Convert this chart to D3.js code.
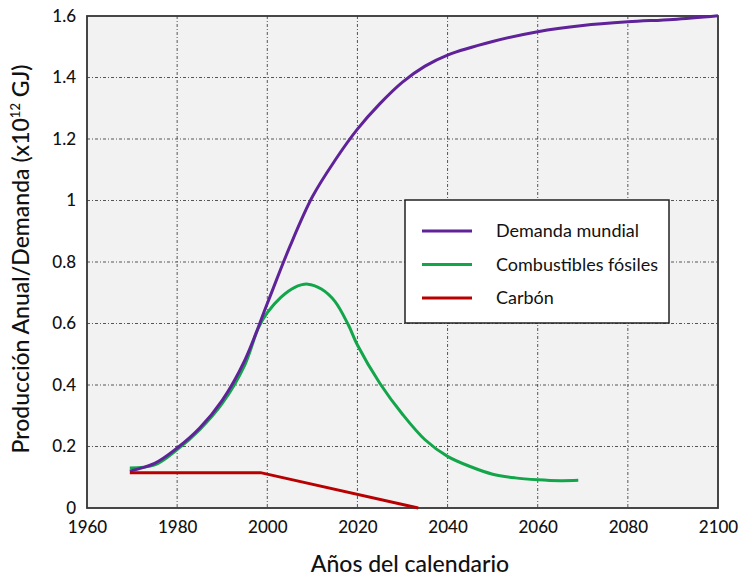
<!DOCTYPE html>
<html><head><meta charset="utf-8">
<script src="https://cdn.jsdelivr.net/npm/d3@7"></script>
<style>body{margin:0;background:#fff;} text{font-family:Lato,"Noto Sans",sans-serif;fill:#111;}</style>
</head><body><svg id="c" width="739" height="576"></svg>
<script>
const demandYears = [1969.5,1975,1980,1985,1990,1995,2000,2005,2010,2015,2020,2025,2030,2035,2040,2050,2060,2070,2080,2090,2100];
const demandValues = [0.12,0.145,0.195,0.26,0.35,0.48,0.665,0.85,1.012,1.13,1.232,1.315,1.385,1.437,1.473,1.517,1.549,1.569,1.581,1.589,1.601];
const fossilYears = [1969.5,1975,1980,1985,1990,1995,1998,2000,2003,2006,2009,2012,2015,2018,2020,2025,2030,2035,2040,2045,2050,2055,2060,2065,2069];
const fossilValues = [0.13,0.14,0.19,0.255,0.34,0.465,0.585,0.635,0.685,0.717,0.728,0.712,0.672,0.595,0.53,0.405,0.305,0.222,0.168,0.135,0.11,0.098,0.092,0.089,0.09];
const coalYears = [1969.5,1998.5,2033.5];
const coalValues = [0.115,0.115,0];
const xTicks = [1960,1980,2000,2020,2040,2060,2080,2100];
const yTicks = [0,0.2,0.4,0.6,0.8,1,1.2,1.4,1.6];
const legendLabels = ["Demanda mundial","Combustibles fósiles","Carbón"];
const colors = ["#5f2299","#12a54a","#b80000"];

const svg = d3.select("#c");
const L=87,R=718,T=16,B=508;
const x = d3.scaleLinear().domain([1960,2100]).range([L,R]);
const y = d3.scaleLinear().domain([0,1.6]).range([B,T]);

svg.append("rect").attr("x",L).attr("y",T).attr("width",R-L).attr("height",B-T).attr("fill","#f2f2f2");
// grid
const g = svg.append("g");
g.selectAll(".vg").data(xTicks.slice(1,-1)).join("line")
 .attr("x1",d=>x(d)).attr("x2",d=>x(d)).attr("y1",T).attr("y2",B)
 .attr("stroke","#444").attr("stroke-width",0.9).attr("stroke-dasharray","3,2,1,2");
g.selectAll(".hg").data(yTicks.slice(1,-1)).join("line")
 .attr("y1",d=>y(d)).attr("y2",d=>y(d)).attr("x1",L).attr("x2",R)
 .attr("stroke","#444").attr("stroke-width",0.9).attr("stroke-dasharray","3,2,1,2");

// axes
const xa = svg.append("g").attr("transform",`translate(0,${B})`)
 .call(d3.axisBottom(x).tickValues(xTicks).tickFormat(d3.format("d")).tickSize(0).tickPadding(13));
xa.select(".domain").remove();
xa.selectAll("text").attr("font-size",17).attr("font-weight",500);
const ya = svg.append("g").attr("transform",`translate(${L},0)`)
 .call(d3.axisLeft(y).tickValues(yTicks).tickFormat(d=>d3.format("")(d)).tickSize(0).tickPadding(11));
ya.select(".domain").remove();
ya.selectAll("text").attr("font-size",17).attr("font-weight",500);

// border
svg.append("rect").attr("x",L).attr("y",T).attr("width",R-L).attr("height",B-T)
 .attr("fill","none").attr("stroke","#333").attr("stroke-width",1.8);

// lines
const mk = (xs,vs)=>xs.map((d,i)=>[d,vs[i]]);
const smooth = d3.line().x(d=>x(d[0])).y(d=>y(d[1])).curve(d3.curveCatmullRom.alpha(0.5));
const lin = d3.line().x(d=>x(d[0])).y(d=>y(d[1]));
svg.append("path").attr("d",smooth(mk(fossilYears,fossilValues))).attr("fill","none").attr("stroke",colors[1]).attr("stroke-width",3);
svg.append("path").attr("d",smooth(mk(demandYears,demandValues))).attr("fill","none").attr("stroke",colors[0]).attr("stroke-width",3);
svg.append("path").attr("d",lin(mk(coalYears,coalValues))).attr("fill","none").attr("stroke",colors[2]).attr("stroke-width",3);

// legend
const lg = svg.append("g");
lg.append("rect").attr("x",405).attr("y",200).attr("width",264).attr("height",123).attr("fill","#fff").attr("stroke","#222").attr("stroke-width",1.5);
legendLabels.forEach((t,i)=>{
  const yy = 231 + i*33.5;
  lg.append("line").attr("x1",422).attr("x2",472).attr("y1",yy).attr("y2",yy).attr("stroke",colors[i]).attr("stroke-width",3);
  lg.append("text").attr("x",496).attr("y",yy).attr("dy","0.35em").attr("font-size",18).text(t);
});

// axis titles
svg.append("text").attr("x",410).attr("y",572).attr("text-anchor","middle").attr("font-size",23).attr("font-weight",500).text("Años del calendario");
const yt = svg.append("text").attr("transform","translate(29,259) rotate(-90)").attr("text-anchor","middle").attr("font-size",23).attr("font-weight",500);
yt.append("tspan").text("Producción Anual/Demanda (x10");
yt.append("tspan").attr("font-size",13).attr("dy",-9).text("12");
yt.append("tspan").attr("dy",9).text(" GJ)");
</script></body></html>
